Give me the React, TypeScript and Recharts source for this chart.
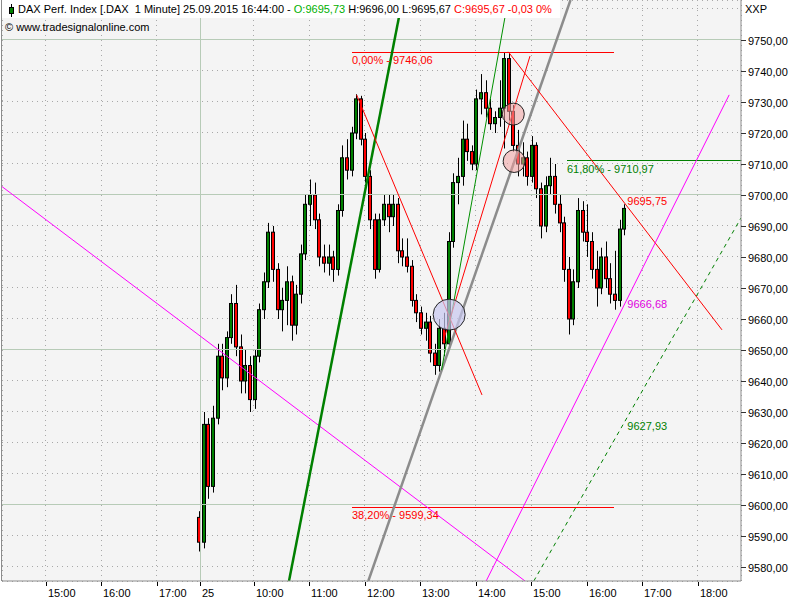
import React from 'react';
import { ComposedChart, Bar, XAxis, YAxis, CartesianGrid, ReferenceLine, ReferenceDot } from 'recharts';

const FONT = '"Liberation Sans", Arial, sans-serif';

// DAX 25.09.2015, condensed to 5-minute candles, first bar 09:01
const firstBar = 9 + 1 / 60;
const barStep = 5 / 60;

const opens = [
  9596, 9588, 9626, 9606, 9628, 9648, 9641, 9654, 9665, 9651,
  9640, 9645, 9634, 9648, 9663, 9672, 9688, 9676, 9663, 9666,
  9672, 9658, 9668, 9681, 9697, 9700, 9692, 9680, 9678, 9680,
  9676, 9695, 9712, 9708, 9720, 9731, 9718, 9706, 9692, 9676,
  9692, 9697, 9693, 9697, 9682, 9680, 9677, 9666, 9662, 9657,
  9659, 9649, 9645, 9657, 9652, 9685, 9704, 9706, 9718, 9714,
  9710, 9731, 9733, 9728, 9723, 9725, 9728, 9744, 9727, 9716,
  9710, 9712, 9706, 9716, 9702, 9690, 9703, 9706, 9697, 9691,
  9676, 9660, 9672, 9695, 9688, 9685, 9676, 9670, 9680, 9673,
  9668, 9666, 9689,
];
const highs = [
  9598, 9630, 9628, 9632, 9652, 9652, 9656, 9668, 9671, 9655,
  9650, 9648, 9650, 9665, 9675, 9691, 9690, 9678, 9670, 9677,
  9674, 9671, 9684, 9700, 9705, 9704, 9694, 9684, 9684, 9682,
  9697, 9716, 9718, 9722, 9732.5, 9732, 9720, 9708, 9694, 9694,
  9700, 9700, 9700, 9699, 9686, 9686, 9679, 9668, 9664, 9662,
  9661, 9652, 9660, 9662, 9688, 9707, 9712, 9724, 9723, 9716,
  9734, 9739, 9737, 9731, 9727, 9737, 9746.06, 9746, 9729, 9721,
  9717, 9714, 9719, 9717, 9704, 9706, 9712, 9710, 9700, 9693,
  9680, 9676, 9699, 9698, 9697, 9688, 9682, 9683, 9685, 9678,
  9682, 9692, 9697,
];
const lows = [
  9585, 9586, 9602, 9604, 9626, 9637, 9638, 9652, 9648, 9636,
  9636, 9630, 9631, 9646, 9660, 9670, 9672, 9660, 9656, 9658,
  9653, 9655, 9665, 9679, 9690, 9689, 9677, 9675, 9674, 9672,
  9674, 9693, 9705, 9706, 9718, 9716, 9704, 9689, 9673, 9675,
  9690, 9688, 9690, 9678, 9677, 9675, 9664, 9659, 9655, 9653,
  9646, 9642, 9643, 9648, 9650, 9683, 9697, 9703, 9711, 9708,
  9708, 9726, 9725, 9721, 9720, 9722, 9715, 9724, 9714, 9706,
  9706, 9703, 9704, 9699, 9686, 9688, 9700, 9694, 9688, 9672,
  9655, 9658, 9670, 9685, 9680, 9673, 9664, 9668, 9670, 9665,
  9663, 9664, 9687,
];
const closes = [
  9588, 9626, 9606, 9628, 9648, 9641, 9654, 9665, 9651, 9640,
  9645, 9634, 9648, 9663, 9672, 9688, 9676, 9663, 9666, 9672,
  9658, 9668, 9681, 9697, 9700, 9692, 9680, 9678, 9680, 9676,
  9695, 9712, 9708, 9720, 9731, 9718, 9706, 9692, 9676, 9692,
  9697, 9693, 9697, 9682, 9680, 9677, 9666, 9662, 9657, 9659,
  9649, 9645, 9657, 9652, 9685, 9704, 9706, 9718, 9714, 9710,
  9731, 9733, 9728, 9723, 9725, 9728, 9744, 9727, 9716, 9710,
  9712, 9706, 9716, 9702, 9690, 9703, 9706, 9697, 9691, 9676,
  9660, 9672, 9695, 9688, 9685, 9676, 9670, 9680, 9673, 9668,
  9666, 9689, 9695.67,
];

// time axis in hours (previous day shifted so 24th 17:45 meets 25th 09:00)
const timeDomain = [5.457, 18.782];
const dayStart = 9.03;
const tickTimes = [6.25, 7.25, 8.25, dayStart, 10, 11, 12, 13, 14, 15, 16, 17, 18];
const tickLabels = ['15:00', '16:00', '17:00', '25', '10:00', '11:00', '12:00', '13:00', '14:00', '15:00', '16:00', '17:00', '18:00'];

const priceDomain = [9575.48, 9762.9];
const priceTicks = [9580, 9590, 9600, 9610, 9620, 9630, 9640, 9650, 9660, 9670, 9680, 9690, 9700, 9710, 9720, 9730, 9740, 9750, 9760];
const majorLevels = [9600, 9650, 9700, 9750];

// drawn trend lines: [t1, p1, t2, p2]
const trendNames = ['magentaDown', 'greenSteep', 'grayRay', 'greenThin', 'redUp', 'redDown1', 'redDown2', 'magentaUp', 'greenDashed'];
const trendPoints = [
  [5.421, 9703.2, 14.887, 9575.48],
  [10.632, 9575.48, 12.675, 9762.9],
  [12.062, 9575.48, 15.708, 9762.9],
  [13.382, 9643.5, 14.582, 9762.9],
  [13.409, 9652.6, 14.977, 9744.8],
  [11.852, 9732.3, 14.112, 9635.5],
  [14.586, 9746.2, 18.439, 9656.5],
  [14.187, 9575.48, 18.569, 9732.3],
  [15.046, 9575.48, 18.782, 9692.6],
];

// Fibonacci levels
const fibTexts = ['0,00% - 9746,06', '38,20% - 9599,34', '61,80% - 9710,97'];
const fibPrices = [9746.06, 9599.34, 9710.97];
const fibStarts = [11.768, 11.768, 15.644];
const fibEnds = [16.492, 16.492, 18.782];

// current values of the trend lines at the last bar
const lastBar = 16.733;
const lineValueTexts = ['9695,75', '9666,68', '9627,93'];
const lineValuePrices = [9695.75, 9666.68, 9627.93];

// highlighted zones
const markerTimes = [13.52, 14.676, 14.692];
const markerPrices = [9661.4, 9726.1, 9710.9];

const trendStyle: Record<string, { stroke: string; width: number; dash?: string }> = {
  magentaDown: { stroke: '#ff00ff', width: 1 },
  greenSteep: { stroke: '#008000', width: 2.5 },
  grayRay: { stroke: '#8c8c8c', width: 2.5 },
  greenThin: { stroke: '#009000', width: 1 },
  redUp: { stroke: '#ff0000', width: 1 },
  redDown1: { stroke: '#ff0000', width: 1 },
  redDown2: { stroke: '#ff0000', width: 1 },
  magentaUp: { stroke: '#ff00ff', width: 1 },
  greenDashed: { stroke: '#008000', width: 1, dash: '4 4' },
};
const fibColors = ['#ff0000', '#ff0000', '#008000'];
const lineValueColors = ['#ff0000', '#e000e0', '#008000'];
const lineValueDy = [-3, 10, 12];
const markerStyle = [
  { rx: 16, ry: 15.5, fill: 'rgba(200,200,240,0.7)' },
  { rx: 11, ry: 11, fill: 'rgba(240,160,160,0.55)' },
  { rx: 11, ry: 11.3, fill: 'rgba(240,160,160,0.55)' },
];

const candles = opens.map((o, i) => ({
  t: firstBar + i * barStep,
  o,
  h: highs[i],
  l: lows[i],
  c: closes[i],
}));

const fmt = (v: number) => v.toFixed(2).replace('.', ',');

const Candle = (props: any) => {
  const { x, y, width, height, payload } = props;
  if (!payload || x == null) return null;
  const { o, h, l, c } = payload;
  const top = Math.min(y, y + height);
  const bot = Math.max(y, y + height);
  const span = h - l || 1;
  const py = (v: number) => top + ((h - v) / span) * (bot - top);
  const cx = Math.round(x + width / 2) + 0.5;
  const bTop = py(Math.max(o, c));
  const bBot = py(Math.min(o, c));
  return (
    <g>
      <line x1={cx} x2={cx} y1={top} y2={bot} stroke="#000" strokeWidth={1} />
      <rect
        x={cx - 2}
        y={bTop}
        width={3}
        height={Math.max(1, bBot - bTop)}
        fill={c >= o ? '#008000' : '#ff0000'}
        stroke="#000"
        strokeWidth={1}
      />
    </g>
  );
};

const XTick = (props: any) => {
  const { x, y, payload } = props;
  const i = tickTimes.indexOf(payload.value);
  const px = Math.round(x) + 0.5;
  return (
    <g>
      <line x1={px} x2={px} y1={y + 1} y2={y + 5} stroke="#000" />
      <text x={px + 1.5} y={y + 16} fontSize={11} fontFamily={FONT} fill="#000">
        {tickLabels[i]}
      </text>
    </g>
  );
};

const YTick = (props: any) => {
  const { x, y, payload } = props;
  if (payload.value > 9750) return <g />;
  const py = Math.round(y) + 0.5;
  return (
    <g>
      <line x1={x} x2={x + 5} y1={py} y2={py} stroke="#333" />
      <text x={x + 7} y={py + 4} fontSize={11} fontFamily={FONT} fill="#000">
        {fmt(payload.value)}
      </text>
    </g>
  );
};

export default function App() {
  return (
    <div style={{ position: 'absolute', left: 0, top: 0, width: 800, height: 600, background: '#fff', fontFamily: FONT }}>
      <div
        style={{
          position: 'absolute',
          left: 1,
          top: 0,
          width: 740,
          height: 581,
          background: '#f4f4f4',
          borderLeft: '1px solid #8c8c8c',
          boxSizing: 'border-box',
        }}
      />
      <div style={{ position: 'absolute', left: 0, top: 0 }}>
        <ComposedChart width={800} height={600} data={candles} margin={{ top: 0, right: 0, bottom: 0, left: 2 }}>
          <CartesianGrid stroke="#a8a8a8" strokeDasharray="1 4" shapeRendering="crispEdges" />
          <XAxis
            dataKey="t"
            type="number"
            domain={timeDomain}
            allowDataOverflow
            ticks={tickTimes}
            interval={0}
            height={19}
            tickSize={0}
            tickMargin={0}
            tick={<XTick />}
            axisLine={{ stroke: '#8c8c8c' }}
          />
          <YAxis
            orientation="right"
            type="number"
            domain={priceDomain}
            allowDataOverflow
            ticks={priceTicks}
            interval={0}
            width={59}
            tickSize={0}
            tickMargin={0}
            tick={<YTick />}
            axisLine={{ stroke: '#8c8c8c' }}
          />
          {majorLevels.map((p) => (
            <ReferenceLine key={'g' + p} y={p} stroke="#b7cbb7" strokeWidth={1} shapeRendering="crispEdges" />
          ))}
          <ReferenceLine x={dayStart} stroke="#b7cbb7" strokeWidth={1} shapeRendering="crispEdges" />
          <Bar
            dataKey={(d: any) => [d.l, d.h]}
            barSize={4}
            isAnimationActive={false}
            shape={(p: any) => <Candle {...p} />}
          />
          {fibPrices.map((p, i) => (
            <ReferenceLine
              key={'fib' + i}
              segment={[{ x: fibStarts[i], y: p }, { x: fibEnds[i], y: p }]}
              stroke={fibColors[i]}
              strokeWidth={1}
              shapeRendering="crispEdges"
              ifOverflow="hidden"
            />
          ))}
          {trendPoints.map((s, i) => {
            const st = trendStyle[trendNames[i]];
            return (
              <ReferenceLine
                key={trendNames[i]}
                segment={[{ x: s[0], y: s[1] }, { x: s[2], y: s[3] }]}
                stroke={st.stroke}
                strokeWidth={st.width}
                strokeDasharray={st.dash}
                ifOverflow="hidden"
              />
            );
          })}
          {markerTimes.map((t, i) => (
            <ReferenceDot
              key={'m' + i}
              x={t}
              y={markerPrices[i]}
              r={markerStyle[i].rx}
              ifOverflow="visible"
              shape={(p: any) => (
                <ellipse
                  cx={p.cx}
                  cy={p.cy}
                  rx={markerStyle[i].rx}
                  ry={markerStyle[i].ry}
                  fill={markerStyle[i].fill}
                  stroke="#222"
                  strokeWidth={1}
                />
              )}
            />
          ))}
          {fibPrices.map((p, i) => (
            <ReferenceDot
              key={'fl' + i}
              x={fibStarts[i]}
              y={p}
              r={1}
              ifOverflow="visible"
              shape={(d: any) => (
                <text x={d.cx} y={d.cy + 12} fontSize={11} fontFamily={FONT} fill={fibColors[i]}>
                  {fibTexts[i]}
                </text>
              )}
            />
          ))}
          {lineValuePrices.map((p, i) => (
            <ReferenceDot
              key={'lv' + i}
              x={lastBar}
              y={p}
              r={1}
              ifOverflow="visible"
              shape={(d: any) => (
                <text x={d.cx} y={d.cy + lineValueDy[i]} fontSize={11} fontFamily={FONT} fill={lineValueColors[i]}>
                  {lineValueTexts[i]}
                </text>
              )}
            />
          ))}
        </ComposedChart>
      </div>
      <div
        style={{
          position: 'absolute',
          left: 2,
          top: 0,
          width: 558,
          height: 18,
          background: '#fff',
          fontSize: 11,
          whiteSpace: 'pre',
          lineHeight: '18px',
        }}
      >
        <svg width={10} height={18} style={{ position: 'absolute', left: 5, top: 0 }}>
          <line x1={4.5} x2={4.5} y1={4} y2={17} stroke="#000" />
          <rect x={2.5} y={7.5} width={4} height={6} fill="#008000" stroke="#000" />
        </svg>
        <span style={{ position: 'absolute', left: 16, top: 0 }}>
          {'DAX Perf. Index [.DAX  1 Minute] 25.09.2015 16:44:00 - '}
          <span style={{ color: '#00b000' }}>O:9695,73</span>
          {' H:9696,00 L:9695,67 '}
          <span style={{ color: '#ff0000' }}>C:9695,67 -0,03 0%</span>
        </span>
      </div>
      <div style={{ position: 'absolute', left: 5, top: 18, fontSize: 11, lineHeight: '18px', whiteSpace: 'pre' }}>
        © www.tradesignalonline.com
      </div>
      <div style={{ position: 'absolute', left: 745, top: 2, fontSize: 11, lineHeight: '14px' }}>XXP</div>
    </div>
  );
}
